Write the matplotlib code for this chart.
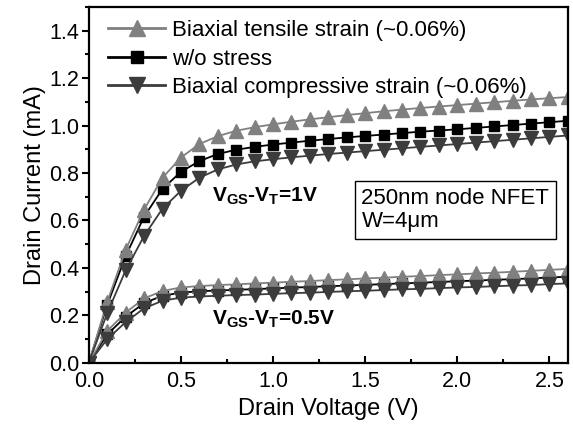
import numpy as np
import matplotlib.pyplot as plt
from matplotlib.ticker import MultipleLocator
from matplotlib.lines import Line2D

plt.rcParams['font.family'] = ['Liberation Sans', 'DejaVu Sans']
plt.rcParams['mathtext.fontset'] = 'custom'
plt.rcParams['mathtext.rm'] = 'Liberation Sans'
plt.rcParams['mathtext.bf'] = 'Liberation Sans:bold'

# drain voltage sweep (V)
vd = [0.0, 0.1, 0.2, 0.3, 0.4, 0.5, 0.6, 0.7, 0.8, 0.9, 1.0, 1.1, 1.2,
      1.3, 1.4, 1.5, 1.6, 1.7, 1.8, 1.9, 2.0, 2.1, 2.2, 2.3, 2.4, 2.5, 2.6]

# VGS-VT = 1V, drain current (mA)
tensile_1v = [0.0, 0.257, 0.477, 0.646, 0.780, 0.865, 0.922, 0.955, 0.978,
              0.993, 1.005, 1.016, 1.026, 1.035, 1.044, 1.052, 1.060, 1.067,
              1.074, 1.080, 1.086, 1.092, 1.098, 1.104, 1.110, 1.115, 1.120]
nostress_1v = [0.0, 0.245, 0.450, 0.616, 0.733, 0.805, 0.850, 0.880, 0.898,
               0.910, 0.920, 0.928, 0.936, 0.943, 0.950, 0.956, 0.962, 0.968,
               0.974, 0.979, 0.984, 0.990, 0.996, 1.002, 1.008, 1.014, 1.020]
compress_1v = [0.0, 0.210, 0.390, 0.535, 0.650, 0.725, 0.780, 0.815, 0.836,
               0.849, 0.858, 0.866, 0.873, 0.880, 0.886, 0.892, 0.898, 0.904,
               0.910, 0.916, 0.922, 0.928, 0.934, 0.940, 0.946, 0.952, 0.958]

# VGS-VT = 0.5V, drain current (mA)
tensile_05v = [0.0, 0.135, 0.212, 0.272, 0.303, 0.318, 0.324, 0.328, 0.331,
               0.335, 0.338, 0.342, 0.345, 0.349, 0.352, 0.356, 0.359, 0.363,
               0.366, 0.370, 0.373, 0.377, 0.380, 0.384, 0.388, 0.392, 0.396]
nostress_05v = [0.0, 0.120, 0.195, 0.252, 0.283, 0.296, 0.302, 0.305, 0.308,
                0.311, 0.314, 0.317, 0.320, 0.323, 0.326, 0.329, 0.332, 0.335,
                0.338, 0.341, 0.344, 0.347, 0.350, 0.353, 0.356, 0.360, 0.363]
compress_05v = [0.0, 0.100, 0.172, 0.230, 0.262, 0.275, 0.280, 0.283, 0.286,
                0.288, 0.291, 0.294, 0.296, 0.299, 0.302, 0.304, 0.307, 0.310,
                0.312, 0.315, 0.318, 0.320, 0.323, 0.326, 0.328, 0.332, 0.335]

labels = ['Biaxial tensile strain (~0.06%)', 'w/o stress',
          'Biaxial compressive strain (~0.06%)']

c_tens = '#808080'
c_none = '#000000'
c_comp = '#3c3c3c'

fig = plt.figure(figsize=(5.73, 4.25), dpi=100)
ax = fig.add_axes([0.155, 0.146, 0.836, 0.838])

for ns, tn, cp in [(nostress_1v, tensile_1v, compress_1v),
                   (nostress_05v, tensile_05v, compress_05v)]:
    ax.plot(vd, ns, color=c_none, marker='s', ms=7.5, lw=1.3, mec=c_none)
    ax.plot(vd, tn, color=c_tens, marker='^', ms=9.5, lw=1.3, mec=c_tens)
    ax.plot(vd, cp, color=c_comp, marker='v', ms=9.5, lw=1.3, mec=c_comp)

handles = [
    Line2D([], [], color=c_tens, marker='^', ms=11, lw=2.0),
    Line2D([], [], color=c_none, marker='s', ms=9, lw=2.0),
    Line2D([], [], color=c_comp, marker='v', ms=11, lw=2.0),
]
ax.legend(handles, labels, loc='upper left', bbox_to_anchor=(0.03, 0.975),
          frameon=False, fontsize=16, numpoints=1, handlelength=2.6,
          handletextpad=0.3, labelspacing=0.34, borderaxespad=0.0,
          borderpad=0.2)

ax.text(0.67, 0.68, r'$\mathbf{V_{GS}}$-$\mathbf{V_{T}}$=1V',
        fontsize=15, fontweight='bold', ha='left', va='baseline')
ax.text(0.67, 0.16, r'$\mathbf{V_{GS}}$-$\mathbf{V_{T}}$=0.5V',
        fontsize=15, fontweight='bold', ha='left', va='baseline')
ax.text(1.48, 0.645, '250nm node NFET\nW=4\u03bcm', fontsize=16,
        ha='left', va='center', linespacing=1.15,
        bbox=dict(boxstyle='square,pad=0.3', facecolor='white',
                  edgecolor='black', linewidth=1.0))

ax.set_xlim(0, 2.6)
ax.set_ylim(0, 1.5)
ax.xaxis.set_major_locator(MultipleLocator(0.5))
ax.xaxis.set_minor_locator(MultipleLocator(0.25))
ax.yaxis.set_major_locator(MultipleLocator(0.2))
ax.yaxis.set_minor_locator(MultipleLocator(0.1))
ax.xaxis.set_major_formatter(plt.FormatStrFormatter('%.1f'))
ax.yaxis.set_major_formatter(plt.FormatStrFormatter('%.1f'))

ax.tick_params(axis='x', which='both', direction='in', labelsize=15.5,
               width=1.5, pad=6)
ax.tick_params(axis='y', which='both', direction='out', labelsize=15.5,
               width=1.5, pad=2)
ax.tick_params(which='major', length=5)
ax.tick_params(which='minor', length=3)
for sp in ax.spines.values():
    sp.set_linewidth(1.6)

ax.set_xlabel('Drain Voltage (V)', fontsize=17, labelpad=4)
ax.set_ylabel('Drain Current (mA)', fontsize=17, labelpad=2)

fig.savefig('out.png', dpi=100)
